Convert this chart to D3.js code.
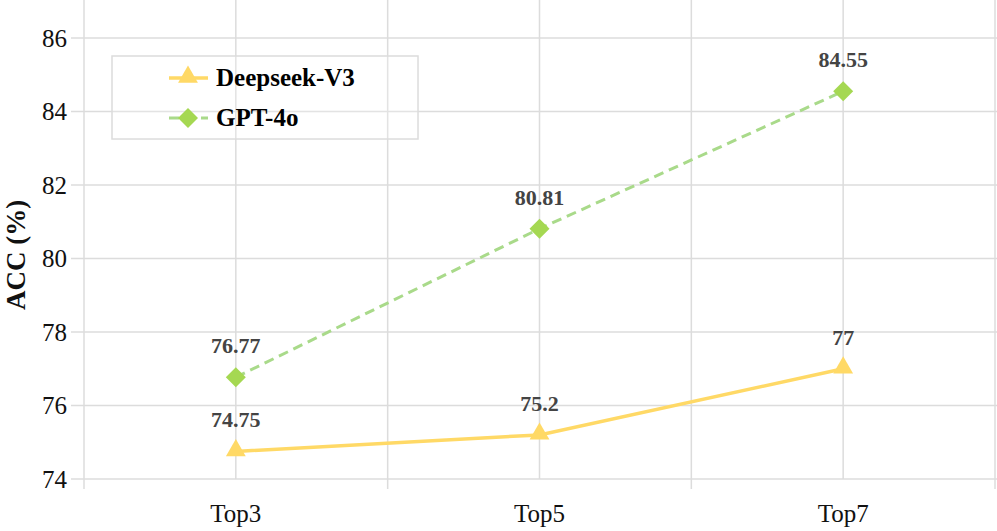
<!DOCTYPE html>
<html><head><meta charset="utf-8">
<script src="https://cdn.jsdelivr.net/npm/d3@7/dist/d3.min.js"></script>
<style>body{margin:0;background:#fff}svg{display:block}svg text{font-family:"Liberation Serif","Times New Roman","DejaVu Serif",serif}</style>
</head><body><svg id="c" width="997" height="531"></svg>
<script>
const categories = ["Top3", "Top5", "Top7"];
const deepseek = [74.75, 75.2, 77];
const gpt4o = [76.77, 80.81, 84.55];
const yTicks = [74, 76, 78, 80, 82, 84, 86];
const seriesNames = ["Deepseek-V3", "GPT-4o"];

const svg = d3.select("#c");
const x = d3.scaleLinear().domain([-0.5, 2.5]).range([84, 995]);
const y = d3.scaleLinear().domain([74, 86]).range([479, 38]);
const grid = "#dcdcdc";

// horizontal grid
svg.append("g").selectAll("line").data(yTicks).join("line")
  .attr("x1", 71).attr("x2", 997).attr("y1", d => y(d)).attr("y2", d => y(d))
  .attr("stroke", grid).attr("stroke-width", 1.5);
// vertical grid at categories
svg.append("g").selectAll("line").data(d3.range(categories.length)).join("line")
  .attr("x1", d => x(d)).attr("x2", d => x(d)).attr("y1", 0).attr("y2", y(74))
  .attr("stroke", grid).attr("stroke-width", 1.5);
// vertical grid at half positions
svg.append("g").selectAll("line").data([-0.5, 0.5, 1.5, 2.5]).join("line")
  .attr("x1", d => x(d)).attr("x2", d => x(d)).attr("y1", 0).attr("y2", 489)
  .attr("stroke", grid).attr("stroke-width", 1.5);

// y tick labels
svg.append("g").selectAll("text").data(yTicks).join("text")
  .attr("x", 67).attr("y", d => y(d)).attr("dy", "0.35em")
  .attr("text-anchor", "end").attr("font-size", 25)
  .attr("fill", "#111").text(d => d);
// x tick labels
svg.append("g").selectAll("text").data(categories).join("text")
  .attr("x", (d, i) => x(i)).attr("y", 522)
  .attr("text-anchor", "middle").attr("font-size", 25)
  .attr("fill", "#111").text(d => d);
// y label
svg.append("text").attr("transform", "translate(25,255) rotate(-90)")
  .attr("text-anchor", "middle").attr("font-size", 27)
  .attr("font-weight", "bold").attr("fill", "#111").text("ACC (%)");

const line = d3.line().x((d, i) => x(i)).y(d => y(d));
const yellow = "#FFD966", greenLine = "#A9DA8A", greenMark = "#A5D852";

svg.append("path").datum(gpt4o).attr("d", line).attr("fill", "none")
  .attr("stroke", greenLine).attr("stroke-width", 3).attr("stroke-dasharray", "10,6");
svg.append("path").datum(deepseek).attr("d", line).attr("fill", "none")
  .attr("stroke", yellow).attr("stroke-width", 3.5);

const tri = d3.symbol().type(d3.symbolTriangle).size(170);
const dia = "M0,-10L10,0L0,10L-10,0Z";

svg.append("g").selectAll("path").data(gpt4o).join("path")
  .attr("transform", (d, i) => `translate(${x(i)},${y(d)})`).attr("d", dia).attr("fill", greenMark);
svg.append("g").selectAll("path").data(deepseek).join("path")
  .attr("transform", (d, i) => `translate(${x(i)},${y(d) - 1})`).attr("d", tri()).attr("fill", yellow);

function labels(data) {
  svg.append("g").selectAll("text").data(data).join("text")
    .attr("x", (d, i) => x(i)).attr("y", d => y(d) - 24)
    .attr("text-anchor", "middle").attr("font-size", 22)
    .attr("font-weight", "bold").attr("fill", "#444").text(d => d);
}
labels(gpt4o);
labels(deepseek);

// legend
const lg = svg.append("g");
lg.append("rect").attr("x", 112).attr("y", 56).attr("width", 306).attr("height", 83)
  .attr("fill", "white").attr("fill-opacity", 0.2).attr("stroke", grid).attr("stroke-width", 1.5);
const rows = [78, 118];
lg.append("line").attr("x1", 169).attr("x2", 208).attr("y1", rows[0]).attr("y2", rows[0])
  .attr("stroke", yellow).attr("stroke-width", 3.5);
lg.append("path").attr("transform", `translate(188,${rows[0] - 1})`).attr("d", tri()).attr("fill", yellow);
lg.append("line").attr("x1", 169).attr("x2", 208).attr("y1", rows[1]).attr("y2", rows[1])
  .attr("stroke", greenLine).attr("stroke-width", 3).attr("stroke-dasharray", "10,6");
lg.append("path").attr("transform", `translate(188,${rows[1]})`).attr("d", dia).attr("fill", greenMark);
lg.selectAll("text.l").data(seriesNames).join("text").attr("class", "l")
  .attr("x", 216).attr("y", (d, i) => rows[i] + 8)
  .attr("font-size", 25).attr("font-weight", "bold")
  .attr("fill", "#000").text(d => d);
</script></body></html>
